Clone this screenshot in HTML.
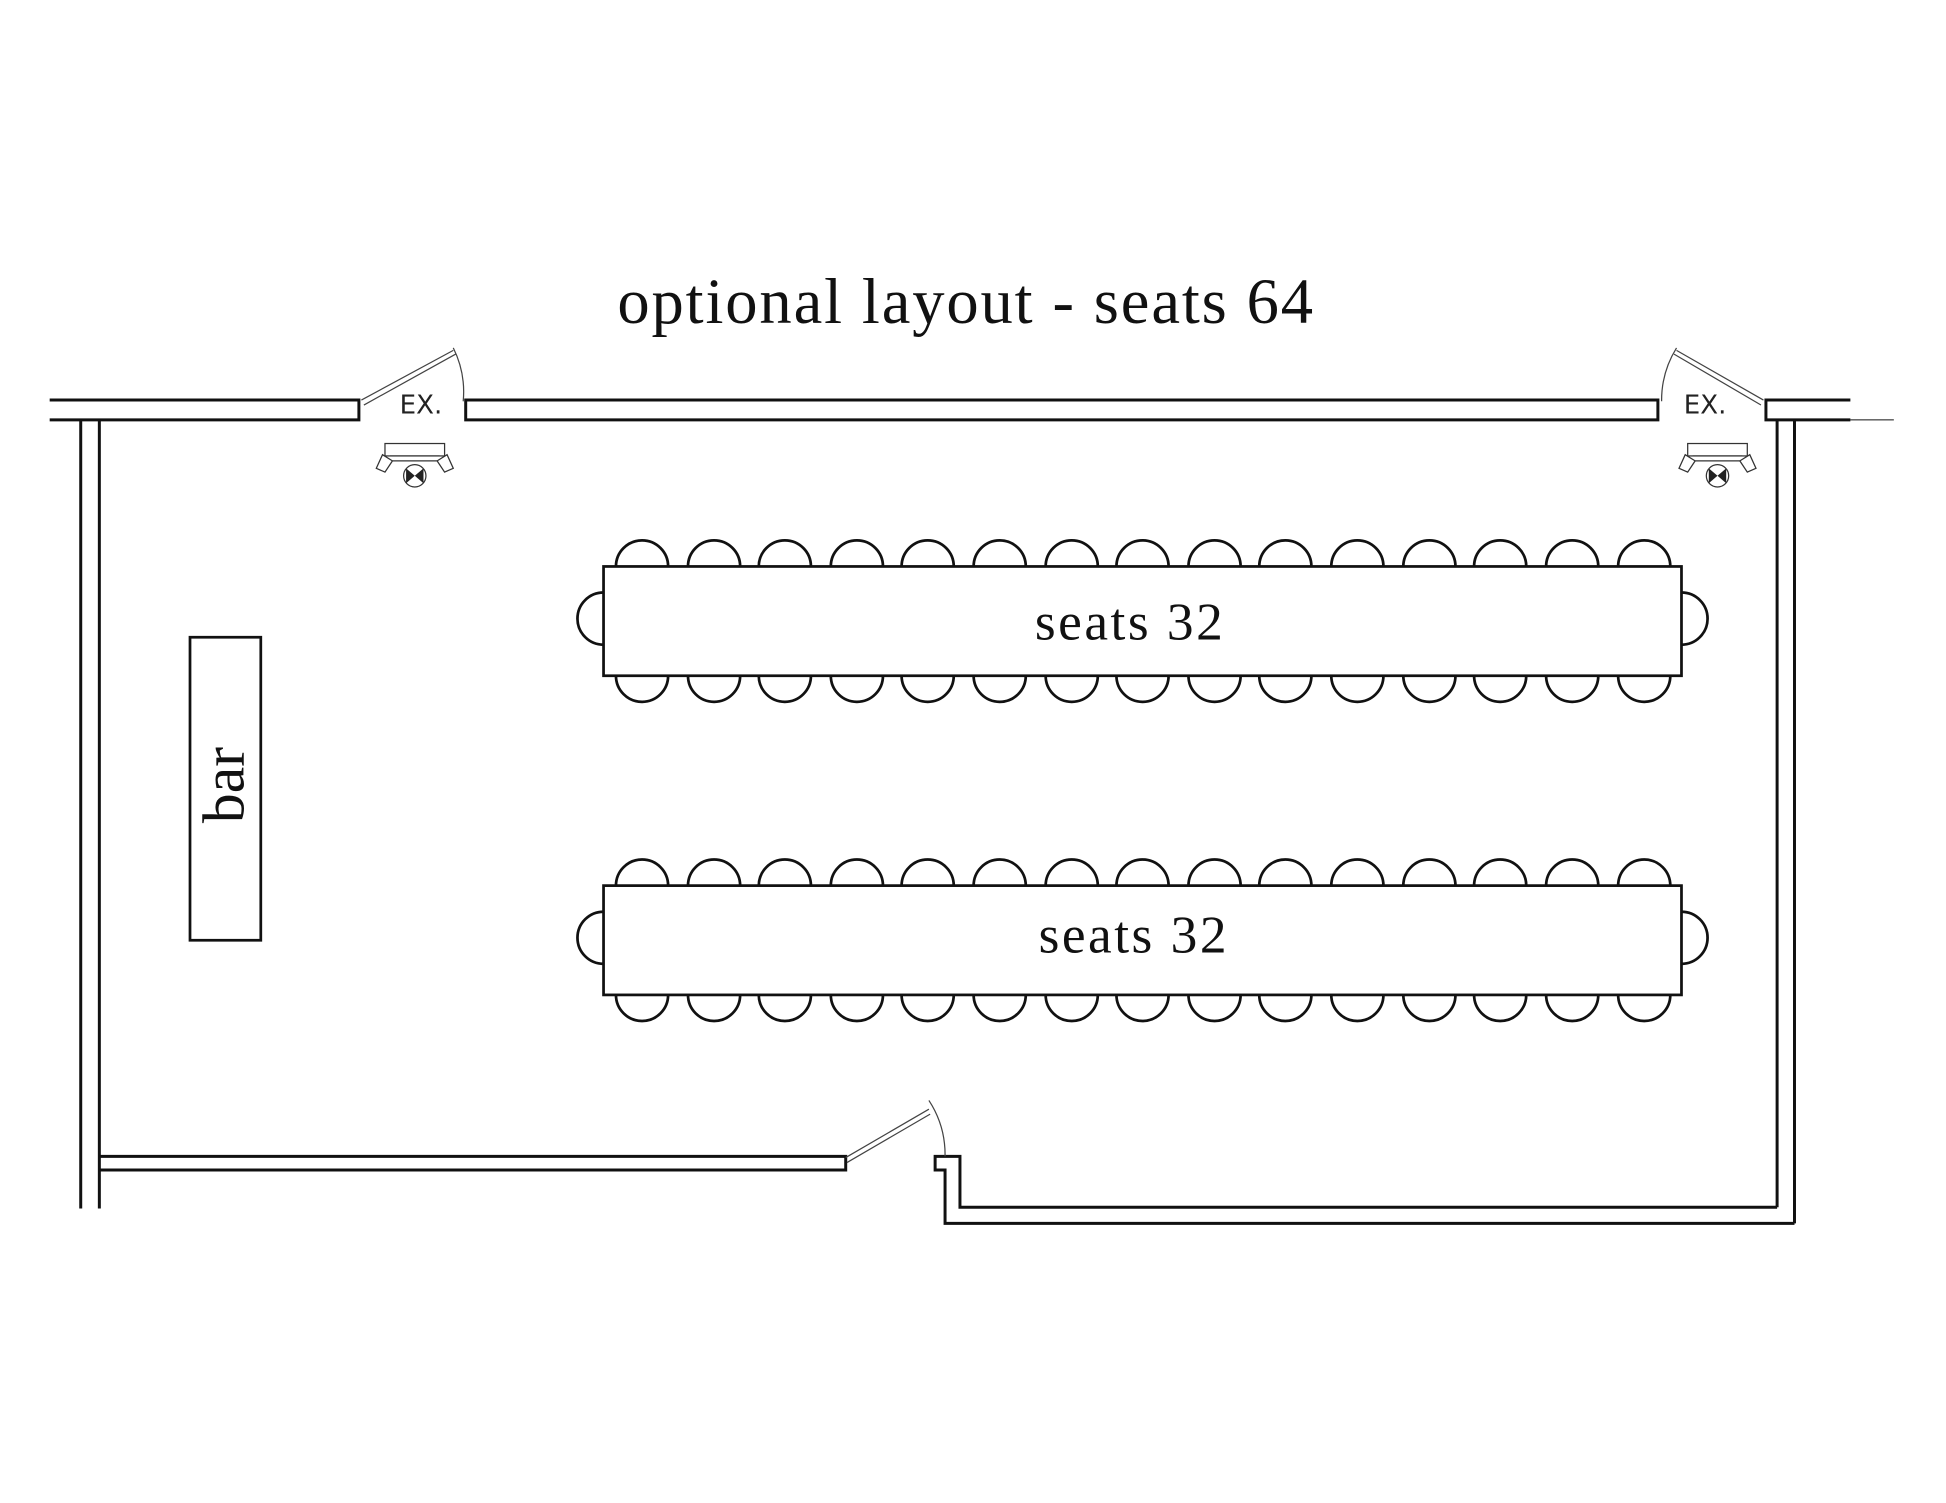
<!DOCTYPE html>
<html><head><meta charset="utf-8"><style>html,body{margin:0;padding:0;background:#fff}svg{display:block}</style></head>
<body>
<svg width="1946" height="1503" viewBox="0 0 1567 1210" xmlns="http://www.w3.org/2000/svg">
<defs>
<g id="light">
 <rect x="-24" y="-18" width="48" height="10" fill="#fff" stroke="#333" stroke-width="1"/>
 <path d="M-20,-8 L20,-8 M-18,-4 L18,-4" stroke="#333" stroke-width="1"/>
 <path d="M-26,-9 L-18,-4 L-24,5 L-31,2 Z" fill="#fff" stroke="#333" stroke-width="1"/>
 <path d="M26,-9 L18,-4 L24,5 L31,2 Z" fill="#fff" stroke="#333" stroke-width="1"/>
 <circle cx="0" cy="8" r="9" fill="#fff" stroke="#333" stroke-width="1"/>
 <path d="M-7,2 L0,8 L-7,14 Z M7,2 L0,8 L7,14 Z" fill="#222"/>
</g>
</defs>
<g fill="none" stroke="#111" stroke-width="2.4">
 <path d="M40,322 H289 V338 H40"/>
 <path d="M1335,322 H375 V338 H1335 Z"/>
 <path d="M1490,322 H1422 V338 H1490"/>
 <path d="M1490,338 H1525" stroke-width="0.8"/>
 <path d="M65,338 V973 M80,338 V973"/>
 <path d="M1431,338 V972 M1445,338 V985"/>
 <path d="M80,931 H681 V942 H80"/>
 <path d="M1431,972 H773 V931 H753 V942 H761 V985 H1445"/>
</g>
<g fill="none" stroke="#444" stroke-width="1">
 <path d="M291,322 L365,282 M293,326 L367,285"/>
 <path d="M365,280 A80,80 0 0 1 373,323"/>
 <path d="M1420,322 L1350,282 M1418,326 L1348,285"/>
 <path d="M1350,280 A80,80 0 0 0 1338,323"/>
 <path d="M681,932 L748,893 M682,936 L749,897"/>
 <path d="M748,886 A80,80 0 0 1 761,931"/>
</g>
<g font-family="'DejaVu Sans','Liberation Sans',sans-serif" font-size="21" fill="#222" text-anchor="middle">
 <text x="339" y="333">EX.</text>
 <text x="1373" y="333">EX.</text>
</g>
<use href="#light" x="334" y="375"/>
<use href="#light" x="1383" y="375"/>
<g fill="#fff" stroke="#111" stroke-width="2.2">
 <g id="t1">
  <path d="M486,477 A21,21 0 0 0 486,519 M1354,477 A21,21 0 0 1 1354,519"/>
  <path d="M496,456 a21,21 0 0 1 42,0 M554,456 a21,21 0 0 1 42,0 M611,456 a21,21 0 0 1 42,0 M669,456 a21,21 0 0 1 42,0 M726,456 a21,21 0 0 1 42,0 M784,456 a21,21 0 0 1 42,0 M842,456 a21,21 0 0 1 42,0 M899,456 a21,21 0 0 1 42,0 M957,456 a21,21 0 0 1 42,0 M1014,456 a21,21 0 0 1 42,0 M1072,456 a21,21 0 0 1 42,0 M1130,456 a21,21 0 0 1 42,0 M1187,456 a21,21 0 0 1 42,0 M1245,456 a21,21 0 0 1 42,0 M1303,456 a21,21 0 0 1 42,0"/>
  <path d="M496,544 a21,21 0 0 0 42,0 M554,544 a21,21 0 0 0 42,0 M611,544 a21,21 0 0 0 42,0 M669,544 a21,21 0 0 0 42,0 M726,544 a21,21 0 0 0 42,0 M784,544 a21,21 0 0 0 42,0 M842,544 a21,21 0 0 0 42,0 M899,544 a21,21 0 0 0 42,0 M957,544 a21,21 0 0 0 42,0 M1014,544 a21,21 0 0 0 42,0 M1072,544 a21,21 0 0 0 42,0 M1130,544 a21,21 0 0 0 42,0 M1187,544 a21,21 0 0 0 42,0 M1245,544 a21,21 0 0 0 42,0 M1303,544 a21,21 0 0 0 42,0"/>
  <rect x="486" y="456" width="868" height="88"/>
 </g>
 <use href="#t1" y="257"/>
 <rect x="153" y="513" width="57" height="244"/>
</g>
<g font-family="'Liberation Serif',serif" fill="#111" text-anchor="middle">
 <text x="778" y="260" font-size="52" letter-spacing="1.5">optional layout - seats 64</text>
 <text x="910" y="515" font-size="43" letter-spacing="2">seats 32</text>
 <text x="913" y="767" font-size="43" letter-spacing="2">seats 32</text>
 <text x="0" y="0" font-size="48" transform="translate(196,632) rotate(-90)">bar</text>
</g>
</svg>
</body></html>
